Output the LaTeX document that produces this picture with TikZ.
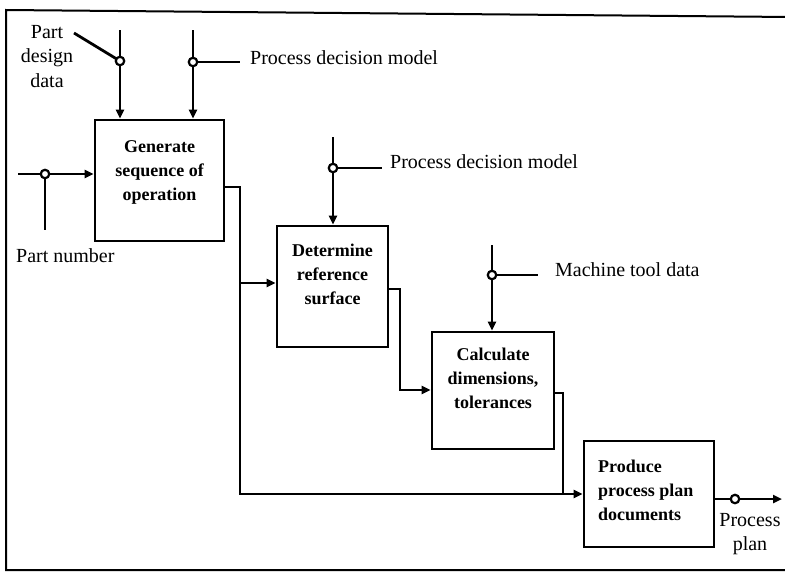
\documentclass[tikz,border=0pt]{standalone}
\usepackage{fontspec}
\setmainfont{Liberation Serif}
\usetikzlibrary{arrows.meta}
\begin{document}
\begin{tikzpicture}[x=1pt,y=-1pt,
  every node/.style={inner sep=0pt},
  procbox/.style={draw, line width=2.8pt, rectangle},
  boxtext/.style={align=center, font=\fontsize{18}{24}\selectfont\bfseries, anchor=north},
  lbl/.style={font=\fontsize{20}{24.5}\selectfont},
  conn/.style={line width=2.8pt},
  tip/.style={-{Triangle[length=9pt,width=8pt]}},
  junction/.style={circle, draw, fill=white, line width=2.2pt, minimum size=8.5pt}]
\useasboundingbox (0,0) rectangle (785,576);

% outer frame (open on the right)
\draw[line width=2pt] (790,17) -- (6,10) -- (6,570) -- (790,570);

% activity boxes
\node[procbox, minimum width=129pt, minimum height=121pt] (box1) at (159.5,180.5) {};
\node[procbox, minimum width=111pt, minimum height=121pt] (box2) at (332.5,286.5) {};
\node[procbox, minimum width=122pt, minimum height=117pt] (box3) at (493,390.5) {};
\node[procbox, minimum width=130pt, minimum height=106pt] (box4) at (649,494) {};

\node[boxtext] (txt1) at (159.5,140) {Generate\\sequence of\\operation};
\node[boxtext] (txt2) at (332.5,244) {Determine\\reference\\surface};
\node[boxtext] (txt3) at (493,348) {Calculate\\dimensions,\\tolerances};
\node[boxtext, align=left, anchor=north west] (txt4) at (598,460) {Produce\\process plan\\documents};

% branch points of the input, control and output lines
\coordinate (k0) at (45,174);
\coordinate (k1) at (120,61);
\coordinate (k2) at (193,62);
\coordinate (k3) at (333,168);
\coordinate (k4) at (492,275);
\coordinate (k5) at (735,499);

% --- inputs and controls of box 1
\coordinate (pdtop) at (120,30);
\coordinate (pdfrom) at (74,33);
\coordinate (pm1top) at (193,30);
\coordinate (pm1end) at (240,62);
\coordinate (pnfrom) at (18,174);
\coordinate (pnend) at (45,230);
\draw[conn,tip] (pdtop) -- (box1.north -| pdtop);
\draw[conn] (pdfrom) -- (k1);
\draw[conn,tip] (pm1top) -- (box1.north -| pm1top);
\draw[conn] (k2) -- (pm1end);
\draw[conn,tip] (pnfrom) -- (box1.west |- pnfrom);
\draw[conn] (k0) -- (pnend);

\node[lbl, align=center, anchor=north] (pdd) at (47,25) {Part\\design\\data};
\node[lbl, anchor=base west] (pnum) at (16,262) {Part number};
\node[lbl, anchor=mid west] (pdm1) at (250,62) {Process decision model};

% --- control of box 2
\coordinate (pm2top) at (333,137);
\coordinate (pm2end) at (382,168);
\draw[conn,tip] (pm2top) -- (box2.north -| pm2top);
\draw[conn] (k3) -- (pm2end);
\node[lbl, anchor=mid west] (pdm2) at (390,166) {Process decision model};

% --- control of box 3
\coordinate (mttop) at (492,245);
\coordinate (mtend) at (538,275);
\draw[conn,tip] (mttop) -- (box3.north -| mttop);
\draw[conn] (k4) -- (mtend);
\node[lbl, anchor=mid west] (mtd) at (555,274) {Machine tool data};

% --- flows between boxes
\coordinate (c1) at (240,187);
\coordinate (c2) at (240,494);
\coordinate (t2) at (240,283);
\draw[conn,tip] (box1.east |- c1) -- (c1) -- (c2) -- (box4.west |- c2);
\draw[conn,tip] (t2) -- (box2.west |- t2);

\coordinate (c3) at (400,289);
\coordinate (c4) at (400,390);
\draw[conn,tip] (box2.east |- c3) -- (c3) -- (c4) -- (box3.west |- c4);

\coordinate (c5) at (563,393);
\coordinate (c6) at (563,494);
\draw[conn] (box3.east |- c5) -- (c5) -- (c6);

% --- output of box 4
\coordinate (pend) at (782,499);
\draw[conn,tip] (box4.east |- pend) -- (pend);
\node[lbl, align=center, anchor=north] (pplan) at (750,513) {Process\\plan};

% junction circles on top of the lines
\node[junction] (j0) at (k0) {};
\node[junction] (j1) at (k1) {};
\node[junction] (j2) at (k2) {};
\node[junction] (j3) at (k3) {};
\node[junction] (j4) at (k4) {};
\node[junction] (j5) at (k5) {};
\end{tikzpicture}
\end{document}
